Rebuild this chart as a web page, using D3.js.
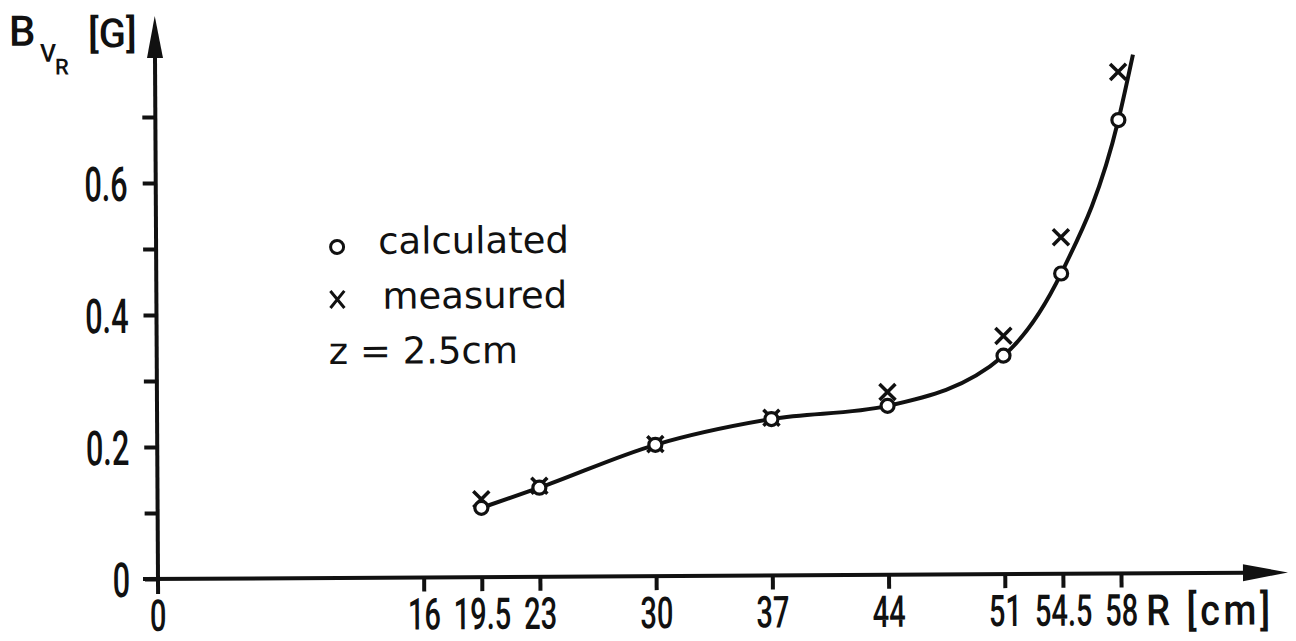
<!DOCTYPE html>
<html>
<head>
<meta charset="utf-8">
<script src="https://cdn.jsdelivr.net/npm/d3@7"></script>
<style>
  body { margin: 0; background: #fff; }
  svg { display: block; }
  .num { font-family: Roboto, "DejaVu Sans", sans-serif; font-size: 48px; font-weight: 500; fill: #111; }
  .xnum { font-size: 44px; }
  .ttl { font-family: Roboto, "DejaVu Sans", sans-serif; font-weight: 500; fill: #111; }
  .leg { font-family: "DejaVu Sans", sans-serif; font-size: 37px; fill: #111; }
</style>
</head>
<body>
<svg id="chart" width="1296" height="641"></svg>
<script>
// radius positions [cm]
var radius = [19.5, 23, 30, 37, 44, 51, 54.5, 58];
// B_vR calculated [G]
var calculated = [0.105, 0.135, 0.199, 0.237, 0.256, 0.331, 0.455, 0.687];
// B_vR measured [G]
var measured = [0.118, 0.138, 0.200, 0.239, 0.277, 0.361, 0.510, 0.760];
// the drawn curve runs a little beyond the last point
var curveEnd = [58.9, 0.786];

var xTicks = [0, 16, 19.5, 23, 30, 37, 44, 51, 54.5, 58];
var yTicks = [0, 0.1, 0.2, 0.3, 0.4, 0.5, 0.6, 0.7];
var yLabels = [0, 0.2, 0.4, 0.6];

var squeeze = 0.66;   // narrow DIN-like digits
var xBase = 631;

var x = d3.scaleLinear().domain([0, 58]).range([158, 1121]);
var y = d3.scaleLinear().domain([0, 0.6]).range([579, 183]);

// the scanned figure is turned slightly
var svg = d3.select('#chart').append('g')
    .attr('transform', 'rotate(-0.33,' + x(0) + ',' + y(0) + ')');

// y axis ticks
var yAxis = d3.axisLeft(y)
    .tickValues(yTicks)
    .tickSize(13)
    .tickFormat(d => yLabels.indexOf(d) >= 0 ? (d === 0 ? '0' : d.toFixed(1)) : '');

var gy = svg.append('g')
    .attr('transform', 'translate(' + x(0) + ',0)')
    .call(yAxis);
gy.select('.domain').remove();
gy.selectAll('.tick line').attr('stroke', '#111').attr('stroke-width', 4);
gy.selectAll('.tick text')
    .attr('class', 'num').attr('font-size', null).attr('font-family', null)
    .attr('x', 0).attr('dy', '0.36em')
    .attr('transform', 'translate(-28,0) scale(0.64,1)');

// x axis ticks
var xAxis = d3.axisBottom(x)
    .tickValues(xTicks.filter(d => d !== 0))
    .tickSize(14)
    .tickFormat(d => String(d));

var gx = svg.append('g')
    .attr('transform', 'translate(0,' + y(0) + ')')
    .call(xAxis);
gx.select('.domain').remove();
gx.selectAll('.tick line').attr('stroke', '#111').attr('stroke-width', 4);
gx.selectAll('.tick text')
    .attr('class', 'num xnum').attr('font-size', null).attr('font-family', null)
    .attr('y', 0).attr('dy', null)
    .attr('transform', 'translate(0,' + (xBase - y(0)) + ') scale(' + squeeze + ',1)');

// 0 label under the origin
svg.append('text').attr('class', 'num xnum')
    .attr('text-anchor', 'middle')
    .attr('transform', 'translate(' + x(0) + ',' + xBase + ') scale(' + squeeze + ',1)')
    .text('0');

// axis lines + arrows
svg.append('line')
    .attr('x1', x(0)).attr('x2', x(0))
    .attr('y1', 55).attr('y2', y(0) + 15)
    .attr('stroke', '#111').attr('stroke-width', 4);
svg.append('path')
    .attr('d', 'M' + x(0) + ',16 L' + (x(0) - 8) + ',58 L' + (x(0) + 8) + ',58 Z')
    .attr('fill', '#111');

svg.append('line')
    .attr('x1', x(0) - 15).attr('x2', 1248)
    .attr('y1', y(0)).attr('y2', y(0))
    .attr('stroke', '#111').attr('stroke-width', 4);
svg.append('path')
    .attr('d', 'M1288,' + y(0) + ' L1243,' + (y(0) - 8.5) + ' L1243,' + (y(0) + 8.5) + ' Z')
    .attr('fill', '#111');

// axis titles
svg.append('text').attr('class', 'ttl')
    .attr('font-size', 43)
    .attr('transform', 'translate(1146,' + xBase + ') scale(0.88,1)')
    .attr('letter-spacing', 4)
    .text('R [cm]');

var yt = svg.append('text').attr('class', 'ttl').attr('font-size', 42);
yt.append('tspan').attr('x', 12).attr('y', 45).text('B');
yt.append('tspan').attr('x', 43).attr('y', 61).attr('font-size', 25).text('V');
yt.append('tspan').attr('x', 58).attr('y', 74).attr('font-size', 22).text('R');
svg.append('text').attr('class', 'ttl')
    .attr('x', 91).attr('y', 47).attr('font-size', 40)
    .text('[G]');

// curve through the calculated values
var curvePts = radius.map((r, i) => [r, calculated[i]]).concat([curveEnd]);
var line = d3.line()
    .x(d => x(d[0]))
    .y(d => y(d[1]))
    .curve(d3.curveMonotoneX);

svg.append('path')
    .datum(curvePts)
    .attr('d', line)
    .attr('fill', 'none')
    .attr('stroke', '#111')
    .attr('stroke-width', 4);

// measured crosses
svg.selectAll('.meas')
    .data(radius)
    .enter()
    .append('path')
    .attr('class', 'meas')
    .attr('d', (d, i) => {
        var cx = x(d), cy = y(measured[i]), s = 8;
        return 'M' + (cx - s) + ',' + (cy - s) + 'L' + (cx + s) + ',' + (cy + s) +
            'M' + (cx - s) + ',' + (cy + s) + 'L' + (cx + s) + ',' + (cy - s);
    })
    .attr('stroke', '#111')
    .attr('stroke-width', 3.5)
    .attr('fill', 'none');

// calculated circles
svg.selectAll('.calc')
    .data(radius)
    .enter()
    .append('circle')
    .attr('class', 'calc')
    .attr('cx', d => x(d))
    .attr('cy', (d, i) => y(calculated[i]))
    .attr('r', 6.5)
    .attr('fill', '#fff')
    .attr('stroke', '#111')
    .attr('stroke-width', 3.2);

// legend
svg.append('circle')
    .attr('cx', 339).attr('cy', 248).attr('r', 6.5)
    .attr('fill', 'none').attr('stroke', '#111').attr('stroke-width', 3);
svg.append('text').attr('class', 'leg').attr('x', 380).attr('y', 255).text('calculated');

svg.append('path')
    .attr('d', 'M332,292 L346,309 M332,309 L346,292')
    .attr('stroke', '#111').attr('stroke-width', 3).attr('fill', 'none');
svg.append('text').attr('class', 'leg').attr('x', 384).attr('y', 310).text('measured');

svg.append('text').attr('class', 'leg').attr('x', 330).attr('y', 365).text('z = 2.5cm');
</script>
</body>
</html>
